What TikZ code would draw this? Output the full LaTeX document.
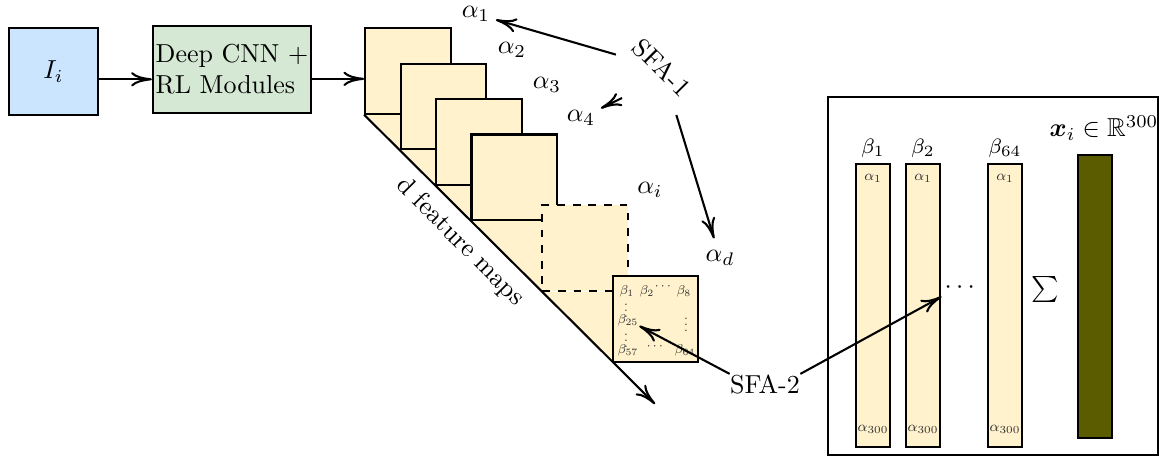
\documentclass[tikz,border=0pt]{standalone}
\usepackage{amsmath,amssymb}
\usetikzlibrary{positioning,arrows.meta,calc}
\definecolor{inblue}{RGB}{204,229,255}
\definecolor{cnngreen}{RGB}{213,232,212}
\definecolor{fmyellow}{RGB}{255,242,204}
\definecolor{olivebar}{RGB}{91,91,0}
\tikzset{
  >={To[length=8pt,width=5.5pt]},
  flow/.style={->,thick},
  inbox/.style={draw,thick,fill=inblue,minimum width=34.2pt,
    minimum height=33.5pt,inner sep=1pt},
  procbox/.style={draw,thick,fill=cnngreen,minimum width=60.8pt,
    minimum height=33.5pt,align=left,inner sep=1pt},
  fmap/.style={draw,thick,fill=fmyellow,minimum size=32.9pt,inner sep=0pt},
  fmapdash/.style={fmap,dashed},
  mlbl/.style={font=\footnotesize,scale=0.62,inner sep=0.5pt,text=black!80},
  clbl/.style={mlbl,scale=1.12},
  alab/.style={inner sep=2pt},
  blab/.style={font=\footnotesize,inner sep=1pt},
  colbox/.style={draw,thick,fill=fmyellow,minimum width=13.1pt,
    minimum height=108.8pt,inner sep=0pt},
  sumbar/.style={colbox,fill=olivebar},
  panel/.style={draw,semithick,minimum width=126.9pt,
    minimum height=137.7pt,inner sep=0pt},
}

\begin{document}
\begin{tikzpicture}[x=0.3846pt,y=-0.3846pt]
  \useasboundingbox (0,0) rectangle (1168,457);
  \node[inbox] (img) at (53.5,71.5) {$I_i$};
  \node[procbox] (cnn) at (232,69.5) {Deep CNN +\\RL Modules};
  % shading below the stack of maps
  \fill[fmyellow] (365,114) -- (613,362) -- (613,292) -- (543,292) -- (543,220)
    -- (471,220) -- (471,185) -- (436,185) -- (436,150) -- (400,150)
    -- (400,114) -- cycle;
  \foreach \k in {1,...,4}
    \node[fmap] (fm\k) at ({408+35.43*(\k-1)},{71+35.43*(\k-1)}) {};
  \node[fmapdash] (fmi) at (585.2,248.2) {};
  \node[fmap] (fmd) at (655.5,319) {};
  \coordinate (diagend) at (655,404);
  \draw[flow] (fm1.south west) -- (diagend);
  \node[rotate=-45] (dlab) at (460,242) {d feature maps};
  % entries of the last map
  \node[mlbl] (mb1) at (627,291) {$\beta_1$};
  \node[mlbl] (mb2) at (647,291) {$\beta_2$};
  \node[mlbl] (mcd1) at (664,287) {$\cdots$};
  \node[mlbl] (mb8) at (684,291) {$\beta_8$};
  \node[mlbl] (mvd1) at (626,306) {$\vdots$};
  \node[mlbl] (mb25) at (628,320) {$\beta_{25}$};
  \node[mlbl] (mvd2) at (686,320) {$\vdots$};
  \node[mlbl] (mvd3) at (626,336) {$\vdots$};
  \node[mlbl] (mb57) at (628,350) {$\beta_{57}$};
  \node[mlbl] (mcd2) at (656,347) {$\cdots$};
  \node[mlbl] (mb64) at (685,350) {$\beta_{64}$};
  \draw[flow] ([yshift=-3pt]img.east) -- ([yshift=-3pt]img.east -| cnn.west);
  \draw[flow] ([yshift=-3.6pt]cnn.east) -- ([yshift=-3.6pt]cnn.east -| fm1.west);
  % alpha labels and SFA-1
  \node[alab] (a1) at (476,14) {$\alpha_1$};
  \node[alab] (a2) at (512,50) {$\alpha_2$};
  \node[alab] (a3) at (547,85) {$\alpha_3$};
  \node[alab] (a4) at (581,118) {$\alpha_4$};
  \node[alab] (ai) at (650,190) {$\alpha_i$};
  \node[alab] (ad) at (720,258) {$\alpha_d$};
  \node[rotate=-45,inner sep=5pt] (sfaone) at (662,68) {SFA-1};
  \coordinate (sfatail) at (622,98);
  \draw[flow] (sfaone) -- (a1);
  \draw[flow] (sfatail) -- (a4);
  \draw[flow,shorten >=2.5pt] (sfaone) -- (ad);
  % pooled vector panel
  \node[panel] (pnl) at (993,276) {};
  \foreach \n/\x in {1/873,2/923,64/1005}{
    \node[colbox] (col\n) at (\x,305.5) {};
    \node[blab] (bl\n) at (\x,148) {$\beta_{\n}$};
    \node[clbl] (ctop\n) at (\x,178) {$\alpha_1$};
    \node[clbl] (cbot\n) at (\x,429) {$\alpha_{300}$};
  }
  \node[inner sep=1pt,anchor=base] (dots) at (962,293.5) {$\cdots$};
  \node (sum) at (1045,290) {$\sum$};
  \node[sumbar] (xbar) at (1095,296.5) {};
  \node (xlab) at (1104,128) {$\boldsymbol{x}_i \in \mathbb{R}^{300}$};
  % SFA-2
  \node[inner sep=0pt] (sfatwo) at (765,384) {SFA-2};
  \draw[flow] (sfatwo.north west) -- (mb25);
  \draw[flow] (sfatwo.north east) -- (dots.south west);
\end{tikzpicture}
\end{document}
